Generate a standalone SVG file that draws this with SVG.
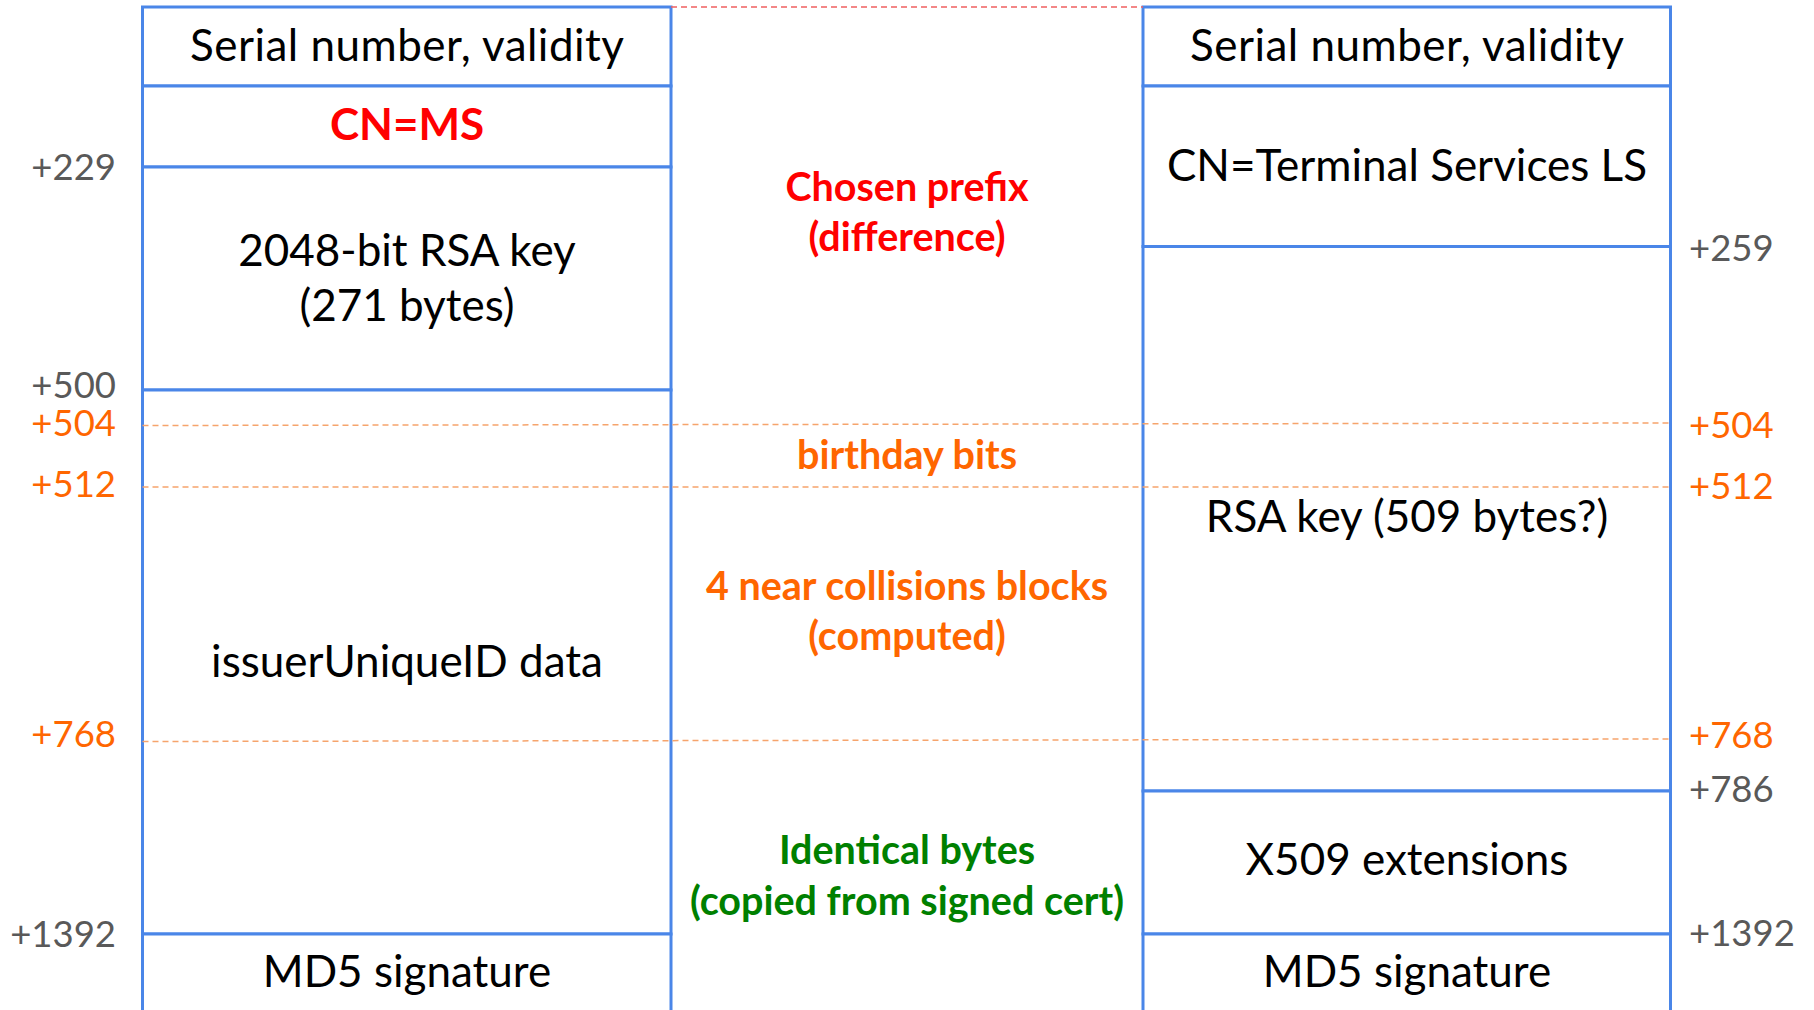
<svg xmlns="http://www.w3.org/2000/svg" width="1814" height="1010" viewBox="0 0 1814 1010">
<style>
.cell{fill:#ffffff;stroke:#4a86e8;stroke-width:3}
.t{font-family:Lato,"Open Sans",sans-serif;font-size:44px;fill:#000;text-anchor:middle}
.m{font-family:Lato,"Open Sans",sans-serif;font-size:39.5px;font-weight:bold;text-anchor:middle}
.n{font-family:Lato,"Open Sans",sans-serif;font-size:36.5px;fill:#595959}
.no{fill:#ff6600}
.nl{text-anchor:end}
.red{fill:#ff0000}
.org{fill:#ff6600}
.grn{fill:#008000}
.dash{stroke:#f6a46c;stroke-width:1.5;stroke-dasharray:6 4;fill:none}
.rdash{stroke:#f06060;stroke-width:1.5;stroke-dasharray:6 4;fill:none}
</style>
<rect width="1814" height="1010" fill="#ffffff"/>
<g id="left-serial"><rect class="cell" x="142.5" y="7" width="528.5" height="79"/><text class="t" x="407" y="61" textLength="434" lengthAdjust="spacing">Serial number, validity</text></g>
<g id="left-cn"><rect class="cell" x="142.5" y="86" width="528.5" height="81"/><text class="t red" x="407" y="140" font-weight="bold" font-size="42">CN=MS</text></g>
<g id="left-rsa"><rect class="cell" x="142.5" y="167" width="528.5" height="223"/><text class="t" x="407" y="266">2048-bit RSA key</text><text class="t" x="407" y="321">(271 bytes)</text></g>
<g id="left-issuer"><rect class="cell" x="142.5" y="390" width="528.5" height="544"/><text class="t" x="407" y="677">issuerUniqueID data</text></g>
<g id="left-md5"><rect class="cell" x="142.5" y="934" width="528.5" height="90"/><text class="t" x="407" y="987">MD5 signature</text></g>
<g id="right-serial"><rect class="cell" x="1143" y="7" width="527.5" height="79"/><text class="t" x="1407" y="61" textLength="434" lengthAdjust="spacing">Serial number, validity</text></g>
<g id="right-cn"><rect class="cell" x="1143" y="86" width="527.5" height="160.5"/><text class="t" x="1407" y="181">CN=Terminal Services LS</text></g>
<g id="right-rsa"><rect class="cell" x="1143" y="246.5" width="527.5" height="544.5"/><text class="t" x="1407" y="532">RSA key (509 bytes?)</text></g>
<g id="right-x509"><rect class="cell" x="1143" y="791" width="527.5" height="143"/><text class="t" x="1407" y="875">X509 extensions</text></g>
<g id="right-md5"><rect class="cell" x="1143" y="934" width="527.5" height="90"/><text class="t" x="1407" y="987">MD5 signature</text></g>
<g id="connectors">
<line class="rdash" x1="671" y1="7" x2="1143" y2="7"/>
<line class="dash" x1="142.5" y1="425.5" x2="1670.5" y2="423"/>
<line class="dash" x1="142.5" y1="487" x2="1670.5" y2="487"/>
<line class="dash" x1="142.5" y1="741.5" x2="1670.5" y2="739"/>
</g>
<g id="middle-labels">
<text class="m red" x="907" y="201">Chosen prefix</text>
<text class="m red" x="907" y="251">(difference)</text>
<text class="m org" x="907" y="469">birthday bits</text>
<text class="m org" x="907" y="600">4 near collisions blocks</text>
<text class="m org" x="907" y="650">(computed)</text>
<text class="m grn" x="907" y="864">Identical bytes</text>
<text class="m grn" x="907" y="915">(copied from signed cert)</text>
</g>
<g id="offsets-left">
<text class="n nl" x="116" y="180">+229</text>
<text class="n nl" x="116" y="398">+500</text>
<text class="n nl no" x="116" y="436">+504</text>
<text class="n nl no" x="116" y="497">+512</text>
<text class="n nl no" x="116" y="747">+768</text>
<text class="n nl" x="116" y="947">+1392</text>
</g>
<g id="offsets-right">
<text class="n" x="1689" y="261">+259</text>
<text class="n no" x="1689" y="438">+504</text>
<text class="n no" x="1689" y="499">+512</text>
<text class="n no" x="1689" y="748">+768</text>
<text class="n" x="1689" y="802">+786</text>
<text class="n" x="1689" y="946">+1392</text>
</g>
</svg>
